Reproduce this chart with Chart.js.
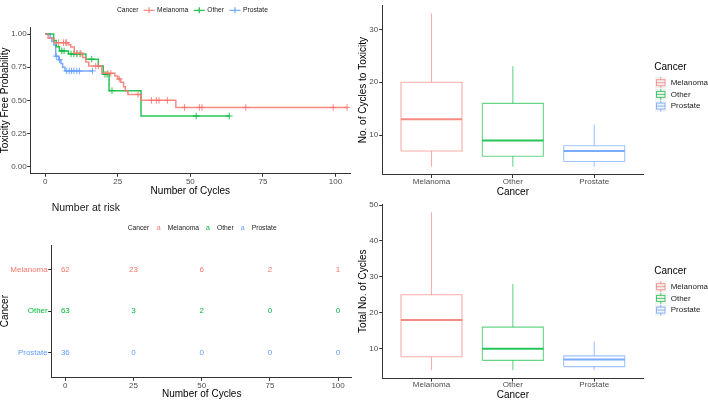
<!DOCTYPE html>
<html>
<head>
<meta charset="utf-8">
<script src="https://cdn.jsdelivr.net/npm/chart.js@4.4.1/dist/chart.umd.min.js"></script>
<style>
    html, body { margin: 0; padding: 0; background: #fff; }
    #wrap { position: relative; width: 708px; height: 400px; overflow: hidden; background: #fff; }
    canvas { position: absolute; }
</style>
</head>
<body>
<div id="wrap">
    <canvas id="km" width="355" height="200" style="left:0;top:0"></canvas>
    <canvas id="risk" width="355" height="200" style="left:0;top:200px"></canvas>
    <canvas id="tox" width="358" height="200" style="left:350px;top:0"></canvas>
    <canvas id="total" width="358" height="205" style="left:350px;top:195px"></canvas>
</div>
<script>
var cancers = ['Melanoma', 'Other', 'Prostate'];
var colors = ['#F8766D', '#00BA38', '#619CFF'];

// Kaplan-Meier steps (time, survival after the step), censor times, last follow-up
var melTime = [0, 1, 3, 8, 8.8, 10, 12.9, 14, 15, 19.5, 24, 25, 26, 27, 27.6, 28.5, 33, 45];
var melSurv = [1, 0.968, 0.935, 0.919, 0.902, 0.855, 0.823, 0.79, 0.759, 0.704, 0.684, 0.661, 0.636, 0.603, 0.573, 0.545, 0.5, 0.447];
var melCens = [4.6, 6.3, 7.1, 7.4, 11, 12.3, 17.4, 18.3, 21.6, 22.6, 25.5, 32, 36.6, 38.3, 39.2, 42.1, 48, 53.1, 54, 69.1, 99.2, 104];
var melEnd = 104;

var othTime = [0, 2.9, 3.8, 4.9, 8, 14, 18.3, 20, 22, 33];
var othSurv = [1, 0.952, 0.905, 0.873, 0.85, 0.81, 0.759, 0.696, 0.573, 0.382];
var othCens = [5.7, 6.5, 8.9, 9.9, 10.9, 12, 16, 20.6, 21.3, 23, 52, 63.4];
var othEnd = 63.4;

var proTime = [0, 1.7, 2.3, 3, 3.6, 4.6, 5.4, 6, 6.8];
var proSurv = [1, 0.972, 0.944, 0.917, 0.833, 0.806, 0.778, 0.75, 0.722];
var proCens = [3.8, 4.9, 7.4, 8.3, 9.1, 9.9, 10.9, 11.8, 16.3];
var proEnd = 16.3;

var kmTicksX = [0, 25, 50, 75, 100];
var kmTicksY = [0, 0.25, 0.5, 0.75, 1];

// number at risk table
var riskTimes = [0, 25, 50, 75, 100];
var melRisk = [62, 23, 6, 2, 1];
var othRisk = [63, 3, 2, 0, 0];
var proRisk = [36, 0, 0, 0, 0];

// boxplot: cycles to toxicity
var toxLow = [4, 4, 4];
var toxQ1 = [7, 6, 5];
var toxMed = [13, 9, 7];
var toxQ3 = [20, 16, 8];
var toxHigh = [33, 23, 12];
var toxTicks = [10, 20, 30];

// boxplot: total cycles
var totLow = [4, 4, 4];
var totQ1 = [7.75, 6.75, 5];
var totMed = [18, 10, 7];
var totQ3 = [25, 16, 8];
var totHigh = [48, 28, 12];
var totTicks = [10, 20, 30, 40, 50];

var FONT = "'Liberation Sans', Arial, sans-serif";
var AXIS = '#333333';
var TICKTXT = '#4D4D4D';
Chart.defaults.font.family = FONT;

function alpha(hex, a) {
    var n = parseInt(hex.slice(1), 16);
    return 'rgba(' + (n >> 16) + ',' + ((n >> 8) & 255) + ',' + (n & 255) + ',' + a + ')';
}

function survAt(times, surv, t) {
    var s = surv[0];
    for (var i = 0; i < times.length; i++) {
        if (times[i] <= t) s = surv[i];
    }
    return s;
}

function fixedTicks(values) {
    return function(axis) {
        axis.ticks = values.map(function(v) { return {value: v}; });
    };
}

// common axis look (theme_classic)
function axis(opts) {
    return {
        type: 'linear',
        min: opts.min,
        max: opts.max,
        afterBuildTicks: fixedTicks(opts.ticks),
        afterFit: function(s) {
            if (opts.width !== undefined) s.width = opts.width;
            if (opts.height !== undefined) s.height = opts.height;
        },
        grid: {display: true, drawOnChartArea: false, drawTicks: true, tickLength: 3.5, color: AXIS, lineWidth: 1},
        border: {display: true, color: AXIS, width: 1},
        ticks: {
            padding: opts.tickPad !== undefined ? opts.tickPad : 0.5,
            color: opts.tickColor || TICKTXT,
            font: {size: 8, family: FONT},
            maxRotation: 0,
            autoSkip: false,
            callback: opts.label
        },
        title: {
            display: true,
            text: opts.title,
            color: '#000',
            font: {size: 10, family: FONT, lineHeight: opts.titleLH || 1.0},
            padding: opts.titlePad || 0
        }
    };
}

function textAt(ctx, txt, x, y, size, color, align) {
    ctx.save();
    ctx.font = size + 'px ' + FONT;
    ctx.fillStyle = color;
    ctx.textAlign = align || 'left';
    ctx.textBaseline = 'middle';
    ctx.fillText(txt, x, y);
    ctx.restore();
}

// ---------- Kaplan-Meier ----------
var kmSets = [
    [melTime, melSurv, melCens, melEnd],
    [othTime, othSurv, othCens, othEnd],
    [proTime, proSurv, proCens, proEnd]
];
var kmDatasets = [];
kmSets.forEach(function(s, k) {
    var pts = s[0].map(function(t, i) { return {x: t, y: s[1][i]}; });
    pts.push({x: s[3], y: s[1][s[1].length - 1]});
    kmDatasets.push({
        data: pts,
        stepped: true,
        borderColor: alpha(colors[k], 0.85),
        borderWidth: 1.5,
        pointRadius: 0,
        fill: false
    });
    kmDatasets.push({
        data: s[2].map(function(t) { return {x: t, y: survAt(s[0], s[1], t)}; }),
        showLine: false,
        pointStyle: 'cross',
        pointRadius: 3.3,
        pointBorderColor: alpha(colors[k], 0.85),
        pointBorderWidth: 1,
        pointBackgroundColor: 'transparent'
    });
});

var kmLegend = {
    id: 'kmLegend',
    afterDraw: function(chart) {
        var ctx = chart.ctx;
        var y = 10.3;
        var x = 117;
        ctx.font = '6.7px ' + FONT;
        textAt(ctx, 'Cancer', x, y, 6.7, '#1a1a1a');
        x += ctx.measureText('Cancer').width + 5;
        cancers.forEach(function(c, k) {
            ctx.save();
            ctx.strokeStyle = alpha(colors[k], 0.85);
            ctx.lineWidth = 1.3;
            ctx.beginPath();
            ctx.moveTo(x, y); ctx.lineTo(x + 11, y);
            ctx.moveTo(x + 5.5, y - 3); ctx.lineTo(x + 5.5, y + 3);
            ctx.stroke();
            ctx.restore();
            x += 13.5;
            textAt(ctx, c, x, y, 6.7, '#1a1a1a');
            ctx.font = '6.7px ' + FONT;
            x += ctx.measureText(c).width + 5.5;
        });
    }
};

new Chart(document.getElementById('km'), {
    type: 'line',
    data: {datasets: kmDatasets},
    options: {
        responsive: false,
        animation: false,
        layout: {padding: {top: 27.4, right: 3, left: 0, bottom: 0}},
        plugins: {legend: {display: false}, tooltip: {enabled: false}},
        scales: {
            x: axis({min: -5, max: 105, ticks: kmTicksX, height: 26.7, title: 'Number of Cycles',
                     titleLH: 1.2, titlePad: {top: 0, bottom: 3}}),
            y: axis({min: -0.05, max: 1.05, ticks: kmTicksY, width: 30.7, title: 'Toxicity Free Probability',
                     label: function(v) { return v.toFixed(2); }})
        }
    },
    plugins: [kmLegend]
});

// ---------- Number at risk ----------
var riskRows = [melRisk, othRisk, proRisk];
var riskDatasets = riskRows.map(function(r, k) {
    return {
        data: riskTimes.map(function(t) { return {x: t, y: 3 - k}; }),
        riskValues: r,
        showLine: false,
        pointRadius: 0
    };
});

var riskText = {
    id: 'riskText',
    afterDatasetsDraw: function(chart) {
        var ctx = chart.ctx;
        chart.data.datasets.forEach(function(ds, k) {
            chart.getDatasetMeta(k).data.forEach(function(el, i) {
                textAt(ctx, String(ds.riskValues[i]), el.x, el.y, 8, colors[k], 'center');
            });
        });
    },
    afterDraw: function(chart) {
        var ctx = chart.ctx;
        textAt(ctx, 'Number at risk', 51.7, 8.5, 10.5, '#1a1a1a');
        var y = 27.7;
        var x = 127.7;
        ctx.font = '6.7px ' + FONT;
        textAt(ctx, 'Cancer', x, y, 6.7, '#1a1a1a');
        x += ctx.measureText('Cancer').width + 7.5;
        cancers.forEach(function(c, k) {
            textAt(ctx, 'a', x, y, 7, colors[k]);
            x += 11;
            textAt(ctx, c, x, y, 6.7, '#1a1a1a');
            ctx.font = '6.7px ' + FONT;
            x += ctx.measureText(c).width + 7;
        });
    }
};

new Chart(document.getElementById('risk'), {
    type: 'line',
    data: {datasets: riskDatasets},
    options: {
        responsive: false,
        animation: false,
        layout: {padding: {top: 45, right: 3.3, left: 0, bottom: 0}},
        plugins: {legend: {display: false}, tooltip: {enabled: false}},
        scales: {
            x: axis({min: -5, max: 105, ticks: riskTimes, height: 22.7, title: 'Number of Cycles', titleLH: 1.2}),
            y: axis({min: 0.4, max: 3.6, ticks: [1, 2, 3], width: 51.7, title: 'Cancer',
                     label: function(v) { return cancers[3 - v]; },
                     tickColor: function(c) { return colors[3 - c.tick.value] || TICKTXT; }})
        }
    },
    plugins: [riskText]
});

// ---------- Boxplots ----------
function boxDatasets(low, q1, med, q3, high) {
    var out = [];
    var hw = 0.375;
    cancers.forEach(function(c, k) {
        var cx = k + 1;
        var line = alpha(colors[k], 0.6);
        out.push({
            data: [{x: cx - hw, y: q1[k]}, {x: cx + hw, y: q1[k]}, {x: cx + hw, y: q3[k]},
                   {x: cx - hw, y: q3[k]}, {x: cx - hw, y: q1[k]}],
            borderColor: line, borderWidth: 1.1, pointRadius: 0
        });
        out.push({
            data: [{x: cx, y: q3[k]}, {x: cx, y: high[k]}],
            borderColor: line, borderWidth: 1.1, pointRadius: 0
        });
        out.push({
            data: [{x: cx, y: low[k]}, {x: cx, y: q1[k]}],
            borderColor: line, borderWidth: 1.1, pointRadius: 0
        });
        out.push({
            data: [{x: cx - hw, y: med[k]}, {x: cx + hw, y: med[k]}],
            borderColor: alpha(colors[k], 0.85), borderWidth: 2, pointRadius: 0
        });
    });
    return out;
}

function boxLegend(titleY) {
    return {
        id: 'boxLegend',
        afterDraw: function(chart) {
            var ctx = chart.ctx;
            textAt(ctx, 'Cancer', 304.3, titleY, 10, '#000');
            cancers.forEach(function(c, k) {
                var y = titleY + 15 + k * 11.7;
                ctx.save();
                ctx.fillStyle = '#F2F2F2';
                ctx.fillRect(305, y - 5.5, 11, 11);
                ctx.strokeStyle = alpha(colors[k], 0.7);
                ctx.lineWidth = 1;
                ctx.strokeRect(306.5, y - 3, 8.5, 6);
                ctx.beginPath();
                ctx.moveTo(306.5, y); ctx.lineTo(315, y);
                ctx.moveTo(310.75, y - 3); ctx.lineTo(310.75, y - 5.5);
                ctx.moveTo(310.75, y + 3); ctx.lineTo(310.75, y + 5.5);
                ctx.stroke();
                ctx.restore();
                textAt(ctx, c, 320.7, y, 8, '#1a1a1a');
            });
        }
    };
}

function boxChart(id, data, ymin, ymax, yticks, ytitle, topPad, xh, titleY, xTitleLH, xTitlePad) {
    new Chart(document.getElementById(id), {
        type: 'line',
        data: {datasets: data},
        options: {
            responsive: false,
            animation: false,
            layout: {padding: {top: topPad, right: 65, left: 0, bottom: 0}},
            plugins: {legend: {display: false}, tooltip: {enabled: false}},
            scales: {
                x: axis({min: 0.4, max: 3.6, ticks: [1, 2, 3], height: xh, title: 'Cancer',
                         titleLH: xTitleLH, titlePad: xTitlePad, tickPad: -1.5,
                         label: function(v) { return cancers[v - 1]; }}),
                y: axis({min: ymin, max: ymax, ticks: yticks, width: 32.7, title: ytitle, tickPad: 1,
                         titlePad: {top: 8, bottom: 0}})
            }
        },
        plugins: [boxLegend(titleY)]
    });
}

boxChart('tox', boxDatasets(toxLow, toxQ1, toxMed, toxQ3, toxHigh), 2.55, 34.45, toxTicks,
         'No. of Cycles to Toxicity', 0, 25.5, 67.7, 1.2, {top: 0, bottom: 2});
boxChart('total', boxDatasets(totLow, totQ1, totMed, totQ3, totHigh), 1.8, 50.2, totTicks,
         'Total No. of Cycles', 9.3, 21.9, 76.7, 1.0, 0);
</script>
</body>
</html>
